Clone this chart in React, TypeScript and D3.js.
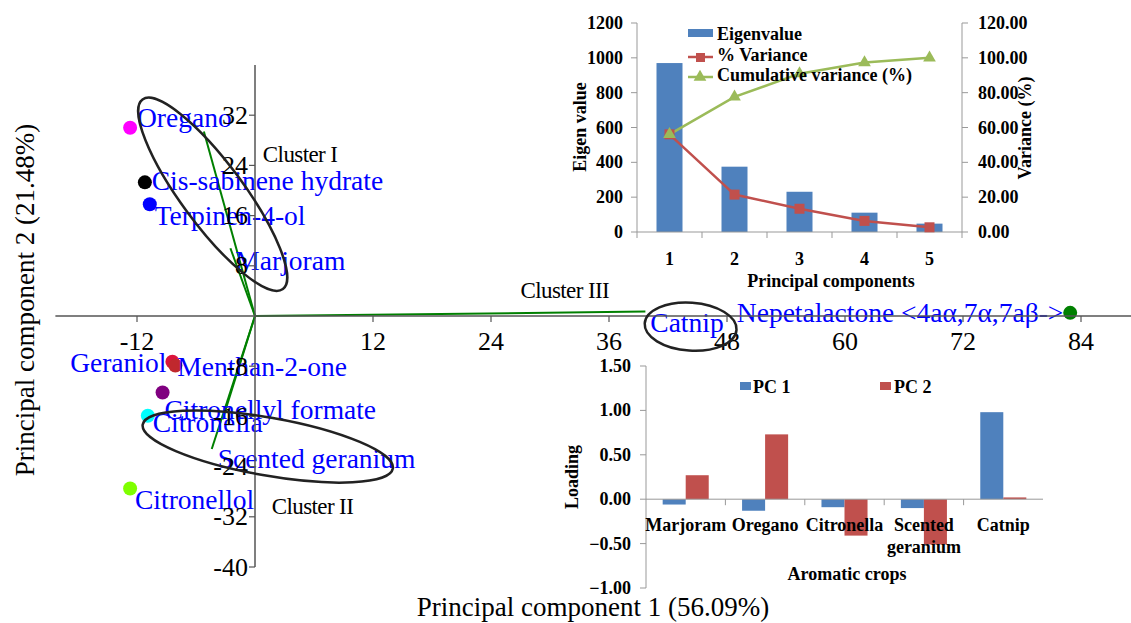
import React from "react";
import * as d3 from "d3";

// ---- biplot (PC1 x PC2) ----
const pc1Ticks = [-12, 12, 24, 36, 48, 60, 72, 84];
const pc2Ticks = [32, 24, 16, 8, -8, -16, -24, -32, -40];

// compound scores
const scorePC1 = [-12.7, -11.2, -10.7, -8.4, -8.1, -9.4, -10.9, -12.7, 82.9];
const scorePC2 = [30.0, 21.3, 17.8, -7.3, -7.9, -12.2, -15.9, -27.5, 0.5];
const scoreColors = ["#ff00ff", "#000000", "#0000ff", "#dc143c", "#c0282d", "#800080", "#00ffff", "#7fff00", "#008000"];

// labels written on the biplot
const labelNames = [
  "Oregano", "Cis-sabinene hydrate", "Terpinen-4-ol", "Marjoram", "Geraniol", "Menthan-2-one",
  "Citronellyl formate", "Citronella", "Scented geranium", "Citronellol", "Catnip", "Nepetalactone <4aα,7α,7aβ->",
];
const labelPC1 = [-12.0, -10.5, -10.2, -2.0, -18.8, -7.9, -9.2, -10.4, -3.8, -12.2, 40.2, 49.0];
const labelPC2 = [30.1, 20.1, 14.5, 7.3, -8.9, -9.6, -16.4, -18.5, -24.2, -30.8, -2.5, -1.0];

// crop vectors
const vectorPC1 = [-5.2, -2.5, -3.3, -4.4, 39.7];
const vectorPC2 = [29.4, 10.8, -16.5, -21.2, 0.7];

// cluster annotations
const clusterNames = ["Cluster I", "Cluster II", "Cluster III"];
const clusterLabelPC1 = [0.8, 1.7, 27.0];
const clusterLabelPC2 = [24.5, -31.5, 2.9];
const clusterPC1 = [-4.3, 1.3, 44.3];
const clusterPC2 = [19.4, -20.8, -1.7];

// ---- scree inset ----
const components = ["1", "2", "3", "4", "5"];
const eigenvalues = [970, 375, 231, 111, 48];
const pctVariance = [56.09, 21.48, 13.35, 6.38, 2.7];
const cumVariance = [56.09, 77.57, 90.92, 97.3, 100.0];
const eigTicks = [0, 200, 400, 600, 800, 1000, 1200];
const pctTicks = [0, 20, 40, 60, 80, 100, 120];

// ---- loadings inset ----
const crops = ["Marjoram", "Oregano", "Citronella", "Scented geranium", "Catnip"];
const loadPC1 = [-0.06, -0.13, -0.09, -0.1, 0.98];
const loadPC2 = [0.27, 0.73, -0.41, -0.51, 0.02];
const loadTicks = [-1, -0.5, 0, 0.5, 1, 1.5];

const serif = "'Liberation Serif', 'Times New Roman', serif";
const BLUE = "#4f81bd";
const RED = "#c0504d";
const GREEN = "#9bbb59";

function App() {
  const W = 1131;
  const H = 623;

  const x = d3.scaleLinear().domain([-12, 84]).range([137, 1081]);
  const y = d3.scaleLinear().domain([-40, 40]).range([567, 65]);
  const x0 = x(0);
  const y0 = y(0);

  const ellipses = [
    { rx: 118, ry: 31, rot: 53.5 },
    { rx: 127, ry: 29, rot: 10 },
    { rx: 46, ry: 24, rot: 4 },
  ];

  // scree
  const sx = d3.scaleBand().domain(components).range([637, 962]).paddingInner(0.6).paddingOuter(0.3);
  const sEig = d3.scaleLinear().domain([0, 1200]).range([232, 23]);
  const sPct = d3.scaleLinear().domain([0, 120]).range([232, 23]);
  const cx = (c: string) => (sx(c) as number) + sx.bandwidth() / 2;
  const pctLine = d3.line<number>().x((_, i) => cx(components[i])).y((d) => sPct(d));
  const tri = d3.symbol().type(d3.symbolTriangle).size(70)();

  // loadings
  const lx = d3.scaleBand().domain(crops).range([646, 1043]).paddingInner(0.42).paddingOuter(0.21);
  const lsub = d3.scaleBand().domain(["PC 1", "PC 2"]).range([0, lx.bandwidth()]);
  const ly = d3.scaleLinear().domain([-1, 1.5]).range([588, 366]);
  const step = lx.step();
  const lx0 = lx.range()[0];

  const fmt2 = d3.format(".2f");

  return (
    <svg width={W} height={H} style={{ position: "absolute", left: 0, top: 0, background: "#fff" }} fontFamily={serif}>
      {/* crop vectors */}
      {vectorPC1.map((v, i) => (
        <line key={"v" + i} x1={x0} y1={y0} x2={x(v)} y2={y(vectorPC2[i])} stroke="#008000" strokeWidth={2} />
      ))}

      {/* scores */}
      {scorePC1.map((v, i) => (
        <circle key={"p" + i} cx={x(v)} cy={y(scorePC2[i])} r={7} fill={scoreColors[i]} />
      ))}

      {/* blue labels */}
      {labelNames.map((t, i) => (
        <text key={"l" + i} x={x(labelPC1[i])} y={y(labelPC2[i])} fill="#0000ff" fontSize={27.5}>
          {t}
        </text>
      ))}

      {/* axes */}
      <line x1={x(-20.3)} x2={W} y1={y0} y2={y0} stroke="#555" strokeWidth={1.5} />
      <line x1={x0} x2={x0} y1={y(40)} y2={y(-40)} stroke="#555" strokeWidth={1.5} />
      {pc1Ticks.map((t) => (
        <g key={"xt" + t}>
          <line x1={x(t)} x2={x(t)} y1={y0} y2={y0 + 6} stroke="#555" strokeWidth={1.2} />
          <text x={x(t)} y={350} textAnchor="middle" fontSize={26}>
            {t}
          </text>
        </g>
      ))}
      {pc2Ticks.map((t) => (
        <g key={"yt" + t}>
          <line x1={x0 - 6} x2={x0} y1={y(t)} y2={y(t)} stroke="#555" strokeWidth={1.2} />
          <text x={x0 - 7} y={y(t)} textAnchor="end" dominantBaseline="central" fontSize={26}>
            {t}
          </text>
        </g>
      ))}

      {/* clusters */}
      {clusterPC1.map((v, i) => (
        <ellipse
          key={"e" + i}
          cx={0}
          cy={0}
          rx={ellipses[i].rx}
          ry={ellipses[i].ry}
          transform={`translate(${x(v)},${y(clusterPC2[i])}) rotate(${ellipses[i].rot})`}
          fill="none"
          stroke="#222"
          strokeWidth={2.5}
        />
      ))}
      {clusterNames.map((t, i) => (
        <text key={"c" + i} x={x(clusterLabelPC1[i])} y={y(clusterLabelPC2[i])} fontSize={23} letterSpacing={-0.6}>
          {t}
        </text>
      ))}

      {/* axis titles */}
      <text x={593} y={616} textAnchor="middle" fontSize={27}>
        Principal component 1 (56.09%)
      </text>
      <text transform="translate(34,300) rotate(-90)" textAnchor="middle" fontSize={27}>
        Principal component 2 (21.48%)
      </text>

      {/* ===== scree inset ===== */}
      <g fontWeight="bold" fontSize={18}>
        {components.map((c, i) => (
          <rect key={"b" + c} x={sx(c)} y={sEig(eigenvalues[i])} width={sx.bandwidth()} height={sEig(0) - sEig(eigenvalues[i])} fill={BLUE} />
        ))}
        <line x1={637} x2={637} y1={23} y2={232} stroke="#999" />
        <line x1={962} x2={962} y1={23} y2={232} stroke="#999" />
        <line x1={637} x2={962} y1={232} y2={232} stroke="#999" />
        {eigTicks.map((t) => (
          <g key={"et" + t}>
            <line x1={631} x2={637} y1={sEig(t)} y2={sEig(t)} stroke="#999" />
            <text x={623} y={sEig(t)} textAnchor="end" dominantBaseline="central">
              {t}
            </text>
          </g>
        ))}
        {pctTicks.map((t) => (
          <g key={"pt" + t}>
            <line x1={962} x2={968} y1={sPct(t)} y2={sPct(t)} stroke="#999" />
            <text x={978} y={sPct(t)} dominantBaseline="central">
              {fmt2(t)}
            </text>
          </g>
        ))}
        {d3.range(6).map((i) => (
          <line key={"sxt" + i} x1={637 + i * sx.step()} x2={637 + i * sx.step()} y1={232} y2={238} stroke="#999" />
        ))}
        {components.map((c) => (
          <text key={"sl" + c} x={cx(c)} y={265} textAnchor="middle">
            {c}
          </text>
        ))}
        <path d={pctLine(pctVariance) || ""} fill="none" stroke={RED} strokeWidth={2.5} />
        <path d={pctLine(cumVariance) || ""} fill="none" stroke={GREEN} strokeWidth={2.5} />
        {pctVariance.map((v, i) => (
          <rect key={"sq" + i} x={cx(components[i]) - 5} y={sPct(v) - 5} width={10} height={10} fill={RED} />
        ))}
        {cumVariance.map((v, i) => (
          <path key={"tr" + i} d={tri || ""} transform={`translate(${cx(components[i])},${sPct(v)})`} fill={GREEN} />
        ))}
        <text x={831} y={287} textAnchor="middle">
          Principal components
        </text>
        <text transform="translate(586,127) rotate(-90)" textAnchor="middle">
          Eigen value
        </text>
        <text transform="translate(1031,128) rotate(-90)" textAnchor="middle">
          Variance (%)
        </text>
        {/* legend */}
        <rect x={688} y={29} width={25} height={8} fill={BLUE} />
        <text x={717} y={40}>Eigenvalue</text>
        <line x1={688} x2={713} y1={57} y2={57} stroke={RED} strokeWidth={2.5} />
        <rect x={696} y={53} width={9} height={9} fill={RED} />
        <text x={717} y={61}>% Variance</text>
        <line x1={688} x2={713} y1={77} y2={77} stroke={GREEN} strokeWidth={2.5} />
        <path d={tri || ""} transform="translate(700,77)" fill={GREEN} />
        <text x={717} y={81}>Cumulative variance (%)</text>
      </g>

      {/* ===== loadings inset ===== */}
      <g fontWeight="bold" fontSize={18}>
        {crops.map((c, i) => (
          <g key={"lg" + c} transform={`translate(${lx(c)},0)`}>
            <rect
              x={lsub("PC 1")}
              y={Math.min(ly(loadPC1[i]), ly(0))}
              width={lsub.bandwidth()}
              height={Math.abs(ly(loadPC1[i]) - ly(0))}
              fill={BLUE}
            />
            <rect
              x={lsub("PC 2")}
              y={Math.min(ly(loadPC2[i]), ly(0))}
              width={lsub.bandwidth()}
              height={Math.abs(ly(loadPC2[i]) - ly(0))}
              fill={RED}
            />
          </g>
        ))}
        <line x1={646} x2={646} y1={366} y2={588} stroke="#999" />
        <line x1={646} x2={1043} y1={ly(0)} y2={ly(0)} stroke="#999" />
        {loadTicks.map((t) => (
          <g key={"lt" + t}>
            <line x1={640} x2={646} y1={ly(t)} y2={ly(t)} stroke="#999" />
            <text x={631} y={ly(t)} textAnchor="end" dominantBaseline="central">
              {fmt2(t)}
            </text>
          </g>
        ))}
        {d3.range(1, 5).map((i) => (
          <line key={"lxt" + i} x1={lx0 + i * step} x2={lx0 + i * step} y1={ly(0)} y2={ly(0) + 6} stroke="#999" />
        ))}
        {crops.map((c) => {
          const words = c.split(" ");
          return (
            <text key={"cl" + c} x={(lx(c) as number) + lx.bandwidth() / 2} y={531} textAnchor="middle">
              {words.map((w, j) => (
                <tspan key={w} x={(lx(c) as number) + lx.bandwidth() / 2} dy={j === 0 ? 0 : 22}>
                  {w}
                </tspan>
              ))}
            </text>
          );
        })}
        <text x={847} y={580} textAnchor="middle">
          Aromatic crops
        </text>
        <text transform="translate(578,477) rotate(-90)" textAnchor="middle">
          Loading
        </text>
        <rect x={740} y={382} width={11} height={8} fill={BLUE} />
        <text x={753} y={393}>PC 1</text>
        <rect x={880} y={382} width={11} height={8} fill={RED} />
        <text x={894} y={393}>PC 2</text>
      </g>
    </svg>
  );
}

export default App;
